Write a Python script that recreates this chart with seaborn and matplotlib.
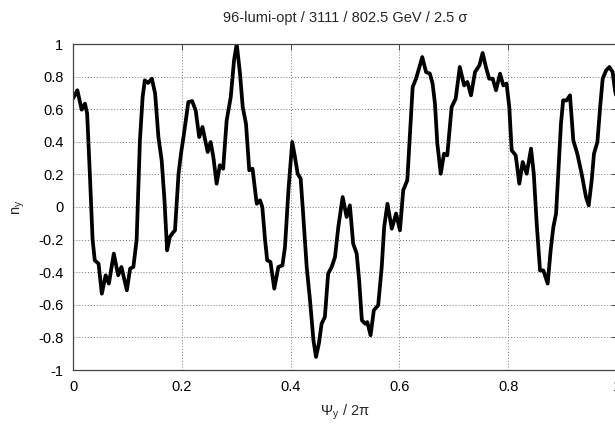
import matplotlib
matplotlib.use("Agg")
import matplotlib.pyplot as plt
import seaborn as sns
import pandas as pd

psi = [0.0, 0.008, 0.016, 0.022, 0.026, 0.031, 0.036, 0.040, 0.047, 0.053,
       0.060, 0.066, 0.075, 0.083, 0.089, 0.099, 0.105, 0.111, 0.117, 0.123,
       0.128, 0.132, 0.138, 0.145, 0.151, 0.157, 0.163, 0.168, 0.173, 0.178,
       0.183, 0.1875, 0.194, 0.1985, 0.204, 0.212, 0.219, 0.2255, 0.232, 0.238,
       0.2476, 0.253, 0.258, 0.264, 0.270, 0.276, 0.2825, 0.290, 0.296, 0.301,
       0.307, 0.312, 0.318, 0.324, 0.330, 0.3377, 0.3438, 0.348, 0.353, 0.357,
       0.363, 0.370, 0.3775, 0.385, 0.3897, 0.396, 0.403, 0.408, 0.413, 0.4185,
       0.423, 0.4296, 0.4357, 0.442, 0.4467, 0.452, 0.457, 0.463, 0.469, 0.4755,
       0.4816, 0.4877, 0.4957, 0.503, 0.509, 0.515, 0.5215, 0.526, 0.531, 0.537,
       0.541, 0.547, 0.553, 0.561, 0.5675, 0.572, 0.578, 0.586, 0.594, 0.601,
       0.607, 0.6145, 0.6195, 0.6244, 0.6305, 0.636, 0.642, 0.649, 0.656, 0.661,
       0.6654, 0.6697, 0.676, 0.682, 0.688, 0.696, 0.7035, 0.711, 0.719, 0.725,
       0.7316, 0.739, 0.747, 0.753, 0.759, 0.765, 0.7715, 0.7776, 0.785, 0.791,
       0.797, 0.802, 0.8064, 0.8138, 0.8204, 0.8266, 0.834, 0.842, 0.847, 0.8524,
       0.8585, 0.8645, 0.8726, 0.878, 0.883, 0.888, 0.892, 0.897, 0.901, 0.9075,
       0.9136, 0.9197, 0.927, 0.935, 0.943, 0.948, 0.9535, 0.9577, 0.964, 0.969,
       0.9737, 0.980, 0.986, 0.992, 0.9963, 1.0]

n_y = [0.665, 0.716, 0.597, 0.634, 0.573, 0.20, -0.20, -0.327, -0.348, -0.532,
       -0.419, -0.47, -0.286, -0.419, -0.368, -0.511, -0.378, -0.368, -0.20, 0.409,
       0.675, 0.777, 0.761, 0.787, 0.695, 0.429, 0.286, 0.05, -0.266, -0.184,
       -0.16, -0.143, 0.204, 0.327, 0.45, 0.644, 0.65, 0.593, 0.429, 0.491,
       0.337, 0.399, 0.307, 0.143, 0.256, 0.235, 0.532, 0.675, 0.90, 1.0,
       0.818, 0.613, 0.511, 0.225, 0.235, 0.02, 0.041, 0.0, -0.20, -0.327,
       -0.337, -0.501, -0.368, -0.358, -0.245, 0.102, 0.399, 0.307, 0.204, 0.174,
       -0.04, -0.368, -0.573, -0.818, -0.92, -0.838, -0.716, -0.675, -0.409, -0.368,
       -0.307, -0.123, 0.061, -0.061, 0.01, -0.225, -0.286, -0.45, -0.695, -0.716,
       -0.706, -0.787, -0.634, -0.603, -0.368, -0.123, 0.02, -0.133, -0.04, -0.143,
       0.102, 0.164, 0.45, 0.736, 0.787, 0.849, 0.92, 0.828, 0.818, 0.757,
       0.634, 0.389, 0.204, 0.327, 0.317, 0.613, 0.665, 0.859, 0.746, 0.767,
       0.685, 0.828, 0.869, 0.945, 0.859, 0.787, 0.787, 0.716, 0.818, 0.746,
       0.757, 0.613, 0.348, 0.317, 0.143, 0.276, 0.204, 0.358, 0.204, -0.102,
       -0.389, -0.389, -0.47, -0.266, -0.123, -0.04, 0.204, 0.511, 0.654, 0.654,
       0.685, 0.409, 0.327, 0.204, 0.061, 0.01, 0.164, 0.327, 0.399, 0.613,
       0.787, 0.838, 0.859, 0.828, 0.716, 0.66]

x_ticks = [0, 0.2, 0.4, 0.6, 0.8, 1.0]
x_tick_labels = ["0", "0.2", "0.4", "0.6", "0.8", "1"]
y_ticks = [-1, -0.8, -0.6, -0.4, -0.2, 0, 0.2, 0.4, 0.6, 0.8, 1]
y_tick_labels = ["-1", "-0.8", "-0.6", "-0.4", "-0.2", "0", "0.2", "0.4", "0.6", "0.8", "1"]

df = pd.DataFrame({"psi": psi, "n_y": n_y})

sns.set_theme(style="white")
plt.rcParams['font.family'] = ['Liberation Sans', 'DejaVu Sans']

fig = plt.figure(figsize=(6.15, 4.26), dpi=100)
W, H = 615, 426
left, right, top, bottom = 73, 617, 44, 370
ax = fig.add_axes([left / W, (H - bottom) / H, (right - left) / W, (bottom - top) / H])

sns.lineplot(data=df, x="psi", y="n_y", ax=ax, color="black", linewidth=2.7,
             estimator=None, sort=False, solid_joinstyle="round", solid_capstyle="round")

ax.set_xlim(0, 1)
ax.set_ylim(-1, 1)
ax.set_xticks(x_ticks)
ax.set_xticklabels(x_tick_labels)
ax.set_yticks(y_ticks)
ax.set_yticklabels(y_tick_labels)
ax.tick_params(direction="in", length=4, width=0.6, color="#333333",
               labelsize=10.5, labelcolor="black", top=True, right=True, pad=7)
ax.grid(True, color="#777777", linestyle=(0, (1, 2)), linewidth=0.7)
for s in ax.spines.values():
    s.set_color("#444444")
    s.set_linewidth(0.9)

ax.set_xlabel("Ψ$_\\mathregular{y}$ / 2π", fontsize=10.5, labelpad=6)
ax.set_ylabel("n$_\\mathregular{y}$", fontsize=10.5, labelpad=8)
ax.set_title("96-lumi-opt / 3111 / 802.5 GeV / 2.5 σ", fontsize=10.5, pad=16)

fig.savefig("out.png", dpi=100)
